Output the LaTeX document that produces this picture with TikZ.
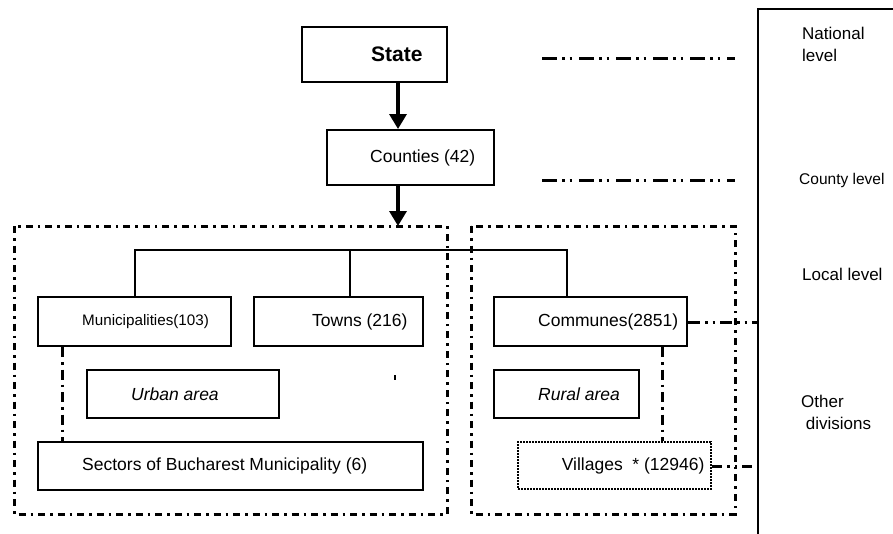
\documentclass[tikz,border=0pt]{standalone}
\usepackage{fontspec}
\setmainfont{Liberation Sans}
\usetikzlibrary{arrows.meta}
\begin{document}
\begin{tikzpicture}[x=1pt,y=-1pt,
  box/.style={draw, line width=2pt, rectangle, inner sep=0pt},
  lbl/.style={anchor=west, inner sep=0pt, font=\fontsize{17.5}{20}\selectfont},
  side/.style={anchor=west, inner sep=0pt, align=left, font=\fontsize{17}{22}\selectfont},
  tree/.style={line width=1.8pt},
  bigarrow/.style={line width=3.4pt, -{Triangle[width=17pt,length=15pt]}},
  levelline/.style={line width=3pt, dash pattern=on 15pt off 5pt on 2.5pt off 5pt on 2.5pt off 7pt},
  region/.style={line width=3pt, dash pattern=on 7pt off 5pt on 2.5pt off 5pt},
  link/.style={line width=3pt, dash pattern=on 10pt off 5pt on 2.5pt off 5pt},
  dotbox/.style={draw, line width=2.8pt, dash pattern=on 2pt off 1pt, rectangle, inner sep=0pt}]
\useasboundingbox (0,0) rectangle (893,533);
\clip (0,0) rectangle (893,533);

% dash-dot regions
\draw[region] (14,226) rectangle (447,514);
\draw[region] (471,226) rectangle (735,514);

% boxes
\node[box, minimum width=145pt, minimum height=55pt] (state) at (374.5,54.5) {};
\node[lbl, font=\bfseries\fontsize{21}{24}\selectfont] (statet) at ([xshift=70pt]state.west) {State};
\node[box, minimum width=167pt, minimum height=55pt] (counties) at (410.5,157.5) {};
\node[lbl] (countiest) at ([xshift=44pt]counties.west) {Counties (42)};
\node[box, minimum width=193pt, minimum height=49pt] (muni) at (134.5,321.5) {};
\node[lbl, font=\fontsize{15.2}{18}\selectfont] (munit) at ([xshift=45pt]muni.west) {Municipalities(103)};
\node[box, minimum width=169pt, minimum height=49pt] (towns) at (338.5,321.5) {};
\node[lbl] (townst) at ([xshift=59pt]towns.west) {Towns (216)};
\node[box, minimum width=193pt, minimum height=49pt] (communes) at (590.5,321.5) {};
\node[lbl] (communest) at ([xshift=45pt]communes.west) {Communes(2851)};
\node[box, minimum width=192pt, minimum height=48pt] (urban) at (183,394) {};
\node[lbl, font=\itshape\fontsize{17.5}{20}\selectfont] (urbant) at ([xshift=45pt]urban.west) {Urban area};
\node[box, minimum width=385pt, minimum height=48pt] (sectors) at (230.5,466) {};
\node[lbl] (sectorst) at ([xshift=45pt]sectors.west) {Sectors of Bucharest Municipality (6)};
\node[box, minimum width=145pt, minimum height=48pt] (rural) at (566.5,394) {};
\node[lbl, font=\itshape\fontsize{17.5}{20}\selectfont] (ruralt) at ([xshift=45pt]rural.west) {Rural area};
\node[dotbox, minimum width=193pt, minimum height=47pt] (villages) at (614.5,465.5) {};
\node[lbl] (villagest) at ([xshift=45pt]villages.west) {Villages\ \ * (12946)};

% arrows
\draw[bigarrow] (state.south -| 398,0) -- (counties.north -| 398,0);
\coordinate (regtop) at (398,226);
\draw[bigarrow] (counties.south -| 398,0) -- (regtop);

% tree
\coordinate (bus) at (135,250);
\coordinate (busend) at (567,250);
\draw[tree] (muni.north -| bus) -- (bus) -- (busend) -- (communes.north -| busend);
\draw[tree] (towns.north -| 350,0) -- (350,250);

% dash-dot links
\draw[link] (muni.south -| 62,0) -- (sectors.north -| 62,0);
\draw[link] (communes.south -| 662,0) -- (villages.north -| 662,0);

% right frame
\coordinate (frametop) at (758,9);
\draw[line width=1.8pt] (758,545) -- (frametop) -- (900,9);
\coordinate (fr1) at (758,322);
\coordinate (fr2) at (758,466);
\draw[link, dash pattern=on 12pt off 5pt on 2.5pt off 5pt on 2.5pt off 5pt] (communes.east |- fr1) -- (fr1);
\draw[link, dash pattern=on 10pt off 5pt on 2.5pt off 5pt on 2.5pt off 5pt] (villages.east |- fr2) -- (fr2);

% level lines
\coordinate (l1a) at (542,58); \coordinate (l1b) at (735,58);
\coordinate (l2a) at (542,180); \coordinate (l2b) at (735,180);
\draw[levelline] (l1a) -- (l1b);
\draw[levelline] (l2a) -- (l2b);

% stray tick
\fill (394.3,375) rectangle (396,380);

% side labels
\node[side] (national) at (802,44) {National\\level};
\node[side, font=\fontsize{15.5}{20}\selectfont] (county) at (799,180) {County level};
\node[side] (local) at (802,274) {Local level};
\node[side] (other) at (801,412) {Other\\ \ divisions};
\end{tikzpicture}
\end{document}
